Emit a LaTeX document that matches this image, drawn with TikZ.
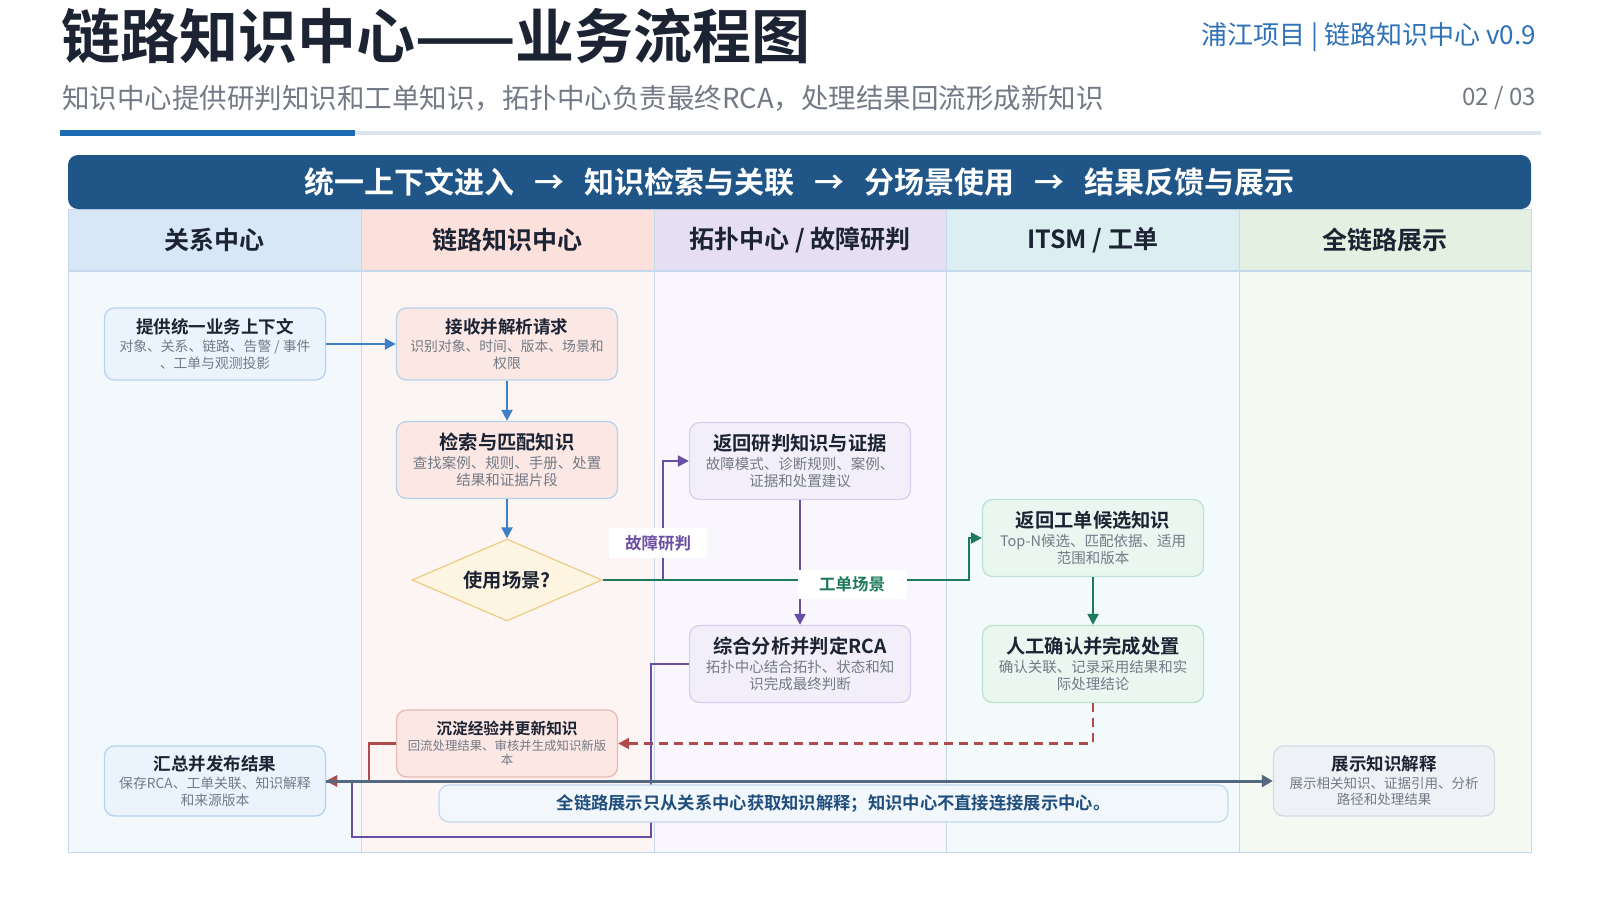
\documentclass[tikz,border=0pt]{standalone}
\usepackage{fontspec}
\setmainfont{Noto Sans CJK SC}[BoldFont={Noto Sans CJK SC Bold}]
\usetikzlibrary{arrows.meta,shapes.geometric}
\definecolor{titlec}{HTML}{1C2333}
\definecolor{subgray}{HTML}{737A86}
\definecolor{laneline}{HTML}{C6D8EC}
\definecolor{proggray}{HTML}{DBE3EC}
\definecolor{progblue}{HTML}{1F6AB4}
\definecolor{bannerc}{HTML}{1F5587}
\definecolor{topblue}{HTML}{2F72B8}
\definecolor{arrblue}{HTML}{3D80C6}
\definecolor{arrpurple}{HTML}{6A4EA3}
\definecolor{arrgreen}{HTML}{1F7A5C}
\definecolor{arrred}{HTML}{B34A4A}
\definecolor{arrslate}{HTML}{55697E}
\definecolor{hA}{HTML}{D7E7F6}
\definecolor{hB}{HTML}{FBE0DC}
\definecolor{hC}{HTML}{E6DFF4}
\definecolor{hD}{HTML}{DDEEF2}
\definecolor{hE}{HTML}{E3F0E2}
\definecolor{bA}{HTML}{F3F8FD}
\definecolor{bB}{HTML}{FDF5F3}
\definecolor{bC}{HTML}{F9F7FD}
\definecolor{bD}{HTML}{F3FAFC}
\definecolor{bE}{HTML}{F4F9F2}
\definecolor{nbf}{HTML}{EBF4FD}
\definecolor{nbd}{HTML}{B8D3EE}
\definecolor{npf}{HTML}{FBE7E3}
\definecolor{npd}{HTML}{EAB9B3}
\definecolor{nuf}{HTML}{F2EFFA}
\definecolor{nud}{HTML}{D9D0EF}
\definecolor{ngf}{HTML}{EAF6F0}
\definecolor{ngd}{HTML}{BDE2CF}
\definecolor{nsf}{HTML}{EEF2F7}
\definecolor{nsd}{HTML}{D1DBE6}
\definecolor{notef}{HTML}{F2F7FC}
\definecolor{noted}{HTML}{C2D8EF}
\definecolor{notet}{HTML}{1F4E7D}
\definecolor{diaf}{HTML}{FDF5E2}
\definecolor{diad}{HTML}{EBCF8B}
\newcommand\ttlL[1]{{\fontsize{19.3}{22}\selectfont\bfseries\color{titlec}#1}}
\newcommand\ttlM[1]{{\fontsize{17.5}{20}\selectfont\bfseries\color{titlec}#1}}
\newcommand\ttlS[1]{{\fontsize{15.7}{18}\selectfont\bfseries\color{titlec}#1}}
\newcommand\barr{\hspace*{20pt}→\hspace*{20pt}}
\tikzset{
  box/.style={draw, rounded corners=10pt, line width=1.3pt, minimum width=221pt, align=center, inner sep=0pt, text=subgray},
  subL/.style={font=\fontsize{14.5}{17.6}\selectfont},
  subM/.style={font=\fontsize{13.8}{17}\selectfont},
  subS/.style={font=\fontsize{12.4}{14.5}\selectfont},
  lanehead/.style={minimum height=62pt, inner sep=0pt, font=\fontsize{25}{30}\selectfont\bfseries, text=titlec},
  conn/.style={line width=2.2pt, -{Triangle[length=11pt,width=11pt]}},
  lbl/.style={fill=white, inner sep=0pt, font=\fontsize{16.5}{20}\selectfont\bfseries},
}
\begin{document}
\begin{tikzpicture}[x=1pt,y=-1pt]
\useasboundingbox (0,0) rectangle (1600,900);
\fill[white] (0,0) rectangle (1600,900);
% header texts
\node[anchor=west, inner sep=0pt, font=\fontsize{59}{66}\selectfont\bfseries, text=titlec] (title) at (61,36) {链路知识中心——业务流程图};
\node[anchor=east, inner sep=0pt, font=\fontsize{26}{30}\selectfont, text=topblue] (proj) at (1536,37) {浦江项目\hspace{6pt}|\hspace{6pt}链路知识中心 v0.9};
\node[anchor=west, inner sep=0pt, font=\fontsize{27.5}{32}\selectfont, text=subgray] (subt) at (62,98) {知识中心提供研判知识和工单知识，拓扑中心负责最终RCA，处理结果回流形成新知识};
\node[anchor=east, inner sep=0pt, font=\fontsize{24}{28}\selectfont, text=subgray] (page) at (1536,98) {02 / 03};
\draw[line width=4pt, proggray] (60,133) -- (1541,133);
\draw[line width=6pt, progblue] (60,133) -- (355,133);
% lane bodies
\fill[bA] (68,271) rectangle (361,852);
\fill[bB] (361,271) rectangle (654,852);
\fill[bC] (654,271) rectangle (946,852);
\fill[bD] (946,271) rectangle (1239,852);
\fill[bE] (1239,271) rectangle (1531,852);
% lane headers
\node[lanehead, fill=hA, minimum width=293pt] (LA) at (214.5,240) {关系中心};
\node[lanehead, fill=hB, minimum width=293pt] (LB) at (507.5,240) {链路知识中心};
\node[lanehead, fill=hC, minimum width=292pt] (LC) at (800,240) {拓扑中心 / 故障研判};
\node[lanehead, fill=hD, minimum width=293pt] (LD) at (1092.5,240) {ITSM / 工单};
\node[lanehead, fill=hE, minimum width=292pt] (LE) at (1385,240) {全链路展示};
\draw[laneline, line width=1pt] (68,209) rectangle (1531,852);
\foreach \xx in {361,654,946,1239} \draw[laneline, line width=1pt] (\xx,209) -- (\xx,852);
\draw[laneline, line width=1.5pt] (68,271) -- (1531,271);
% banner
\node[fill=bannerc, rounded corners=10pt, minimum width=1463pt, minimum height=54pt, inner sep=0pt, text=white, font=\fontsize{30}{34}\selectfont\bfseries] (banner) at (799.5,182) {统一上下文进入\barr{}知识检索与关联\barr{}分场景使用\barr{}结果反馈与展示};
% nodes
\node[box, fill=nbf, draw=nbd, minimum height=72pt, subM] (n1) at (215,344) {\ttlM{提供统一业务上下文}\\[1pt]对象、关系、链路、告警 / 事件\\、工单与观测投影};
\node[box, fill=npf, draw=nbd, minimum height=72pt, subM] (n2) at (507,344) {\ttlM{接收并解析请求}\\[1pt]识别对象、时间、版本、场景和\\权限};
\node[box, fill=npf, draw=nbd, minimum height=77pt, subL] (n3) at (507,460) {\ttlL{检索与匹配知识}\\[1pt]查找案例、规则、手册、处置\\结果和证据片段};
\node[draw=diad, fill=diaf, line width=1.3pt, shape=diamond, aspect=2.3, minimum width=190pt, minimum height=82pt, inner sep=0pt, font=\fontsize{19.3}{22}\selectfont\bfseries, text=titlec] (dia) at (507,580) {使用场景?};
\node[box, fill=nuf, draw=nud, minimum height=77pt, subL] (n5) at (800,461) {\ttlL{返回研判知识与证据}\\[1pt]故障模式、诊断规则、案例、\\证据和处置建议};
\node[box, fill=nuf, draw=nud, minimum height=77pt, subL] (n6) at (800,664) {\ttlL{综合分析并判定RCA}\\[1pt]拓扑中心结合拓扑、状态和知\\识完成最终判断};
\node[box, fill=ngf, draw=ngd, minimum height=77pt, subL] (n7) at (1093,538) {\ttlL{返回工单候选知识}\\[1pt]Top-N候选、匹配依据、适用\\范围和版本};
\node[box, fill=ngf, draw=ngd, minimum height=77pt, subL] (n8) at (1093,664) {\ttlL{人工确认并完成处置}\\[1pt]确认关联、记录采用结果和实\\际处理结论};
\node[box, fill=npf, draw=npd, minimum height=67pt, subS] (n9) at (507,743.5) {\ttlS{沉淀经验并更新知识}\\[1pt]回流处理结果、审核并生成知识新版\\本};
\node[box, fill=nbf, draw=nbd, minimum height=70pt, subM] (n10) at (215,781) {\ttlM{汇总并发布结果}\\[1pt]保存RCA、工单关联、知识解释\\和来源版本};
\node[box, fill=nsf, draw=nsd, minimum height=70pt, font=\fontsize{13.5}{16.5}\selectfont] (n11) at (1384,781) {\ttlM{展示知识解释}\\[1pt]展示相关知识、证据引用、分析\\路径和处理结果};
% helper coordinates
\coordinate (pj) at (663,580);
\coordinate (gj) at (969,580);
\coordinate (h1) at (651,837);
\coordinate (h2) at (352,781);
\coordinate (i1) at (369,781);
% connectors
\draw[conn, arrblue] (n1.east) -- (n2.west);
\draw[conn, arrblue] (n2.south) -- (n3.north);
\draw[conn, arrblue] (n3.south) -- (dia.north);
\draw[conn, arrpurple] (dia.east) -- (pj) |- (n5.west);
\draw[conn, arrpurple] (n5.south) -- (n6.north);
\draw[conn, arrgreen] (dia.east) -- (gj) |- (n7.west);
\draw[conn, arrgreen] (n7.south) -- (n8.north);
\draw[conn, arrred, dash pattern=on 9pt off 6pt] (n8.south) |- (n9.east);
\draw[conn, arrpurple] (n6.west) -| (h1) -| (h2) -- (n10.east);
\draw[conn, arrred] (n9.west) -| (i1) -- (n10.east);
\draw[line width=3pt, arrslate, -{Triangle[length=11pt,width=12pt]}] (n10.east) -- (n11.west);
% labels
\node[lbl, text=arrpurple, minimum width=98pt, minimum height=30pt] (lf) at (658,543) {故障研判};
\node[lbl, text=arrgreen, minimum width=109pt, minimum height=29pt] (lg) at (852,584) {工单场景};
% note
\node[draw=noted, fill=notef, line width=1.2pt, rounded corners=10pt, minimum width=789pt, minimum height=37pt, inner sep=0pt, text=notet, font=\fontsize{17.3}{20}\selectfont\bfseries] (note) at (833.5,803.5) {全链路展示只从关系中心获取知识解释；知识中心不直接连接展示中心。};
\end{tikzpicture}
\end{document}
